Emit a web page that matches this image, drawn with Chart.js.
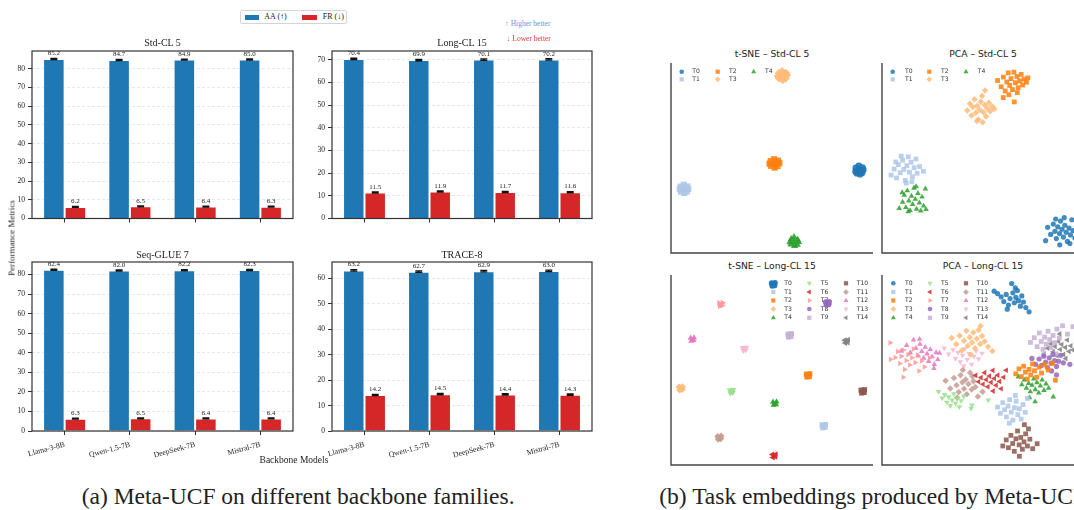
<!DOCTYPE html>
<html><head><meta charset="utf-8">
<script src="https://cdn.jsdelivr.net/npm/chart.js@4.4.1/dist/chart.umd.min.js"></script>
<style>
html,body{margin:0;padding:0;background:#fff;}
body{width:1074px;height:510px;overflow:hidden;position:relative;}
canvas{position:absolute;}
.t{position:absolute;white-space:nowrap;line-height:1;}
</style></head>
<body>
<canvas id="b1" width="299" height="187" style="left:0px;top:39px"></canvas>
<canvas id="b2" width="298" height="187" style="left:300px;top:39px"></canvas>
<canvas id="b3" width="299" height="211" style="left:0px;top:250px"></canvas>
<canvas id="b4" width="298" height="211" style="left:300px;top:250px"></canvas>
<canvas id="s1" width="206" height="192" style="left:669px;top:63px"></canvas>
<canvas id="s2" width="206" height="192" style="left:880px;top:63px"></canvas>
<canvas id="s3" width="206" height="192" style="left:669px;top:275px"></canvas>
<canvas id="s4" width="206" height="192" style="left:880px;top:275px"></canvas>
<div style="position:absolute;left:240px;top:10px;width:107px;height:14px;border:1px solid #d4d4d4;border-radius:2px;box-sizing:border-box;"></div>
<div style="position:absolute;left:244.5px;top:14.5px;width:14px;height:5px;background:#1f77b4;"></div>
<div style="position:absolute;left:301.7px;top:14.5px;width:15px;height:5px;background:#d62728;"></div>
<script>
// ---------- bar chart data ----------
const MODELS = ['Llama-3-8B','Qwen-1.5-7B','DeepSeek-7B','Mistral-7B'];
const BAR_TITLES = ['Std-CL 5','Long-CL 15','Seq-GLUE 7','TRACE-8'];
const SERIES_NAMES = ['AA (↑)','FR (↓)'];
const STD_AA = [85.2, 84.7, 84.9, 85.0];
const STD_FR = [6.2, 6.5, 6.4, 6.3];
const LONG_AA = [70.4, 69.9, 70.1, 70.2];
const LONG_FR = [11.5, 11.9, 11.7, 11.6];
const GLUE_AA = [82.4, 82.0, 82.2, 82.3];
const GLUE_FR = [6.3, 6.5, 6.4, 6.4];
const TRACE_AA = [63.2, 62.7, 62.9, 63.0];
const TRACE_FR = [14.2, 14.5, 14.4, 14.3];
const AA_ERR = [0.3, 0.3, 0.3, 0.3];
const FR_ERR = [0.25, 0.25, 0.25, 0.25];
const Y_MAX = [89.5, 73.9, 86.4, 66.5];
const Y_TICKS = [0, 10, 20, 30, 40, 50, 60, 70, 80];

// ---------- scatter data ----------
const TASK_NAMES = ['T0','T1','T2','T3','T4','T5','T6','T7','T8','T9','T10','T11','T12','T13','T14'];
const SCATTER_TITLES = ['t-SNE – Std-CL 5','PCA – Std-CL 5','t-SNE – Long-CL 15','PCA – Long-CL 15'];
const TSNE_STD5 = [
 [[93.2,43.7],[91.5,44.8],[94.8,44.9],[92.0,42.0],[94.6,42.3],[93.0,45.9],[91.4,42.9],[95.2,43.8],[93.6,41.5]],
 [[6.4,33.7],[4.8,34.9],[8.0,35.0],[5.0,32.3],[7.9,32.4],[6.3,35.9],[4.4,33.6],[8.5,33.8],[6.6,31.6]],
 [[51.1,47.2],[49.4,48.3],[52.9,48.6],[49.6,45.9],[52.7,45.8],[51.0,49.3],[48.8,47.0],[53.6,47.3],[51.3,45.0]],
 [[55.1,93.3],[53.4,94.6],[56.9,94.7],[53.5,92.0],[56.7,91.8],[55.0,95.6],[52.9,93.0],[57.4,93.6],[55.3,91.0]],
 [[61.0,5.9],[59.5,7.2],[62.6,7.0],[59.4,4.6],[62.5,4.4],[60.9,8.3],[58.9,5.7],[63.1,5.9],[61.2,3.8]]
];
const PCA_STD5 = [
 [[82.0,13.5],[83.5,9.8],[84.8,15.2],[85.6,11.4],[86.3,7.6],[87.0,13.8],[87.9,10.2],[88.4,16.8],[89.1,12.5],[89.8,8.4],[90.5,14.6],[91.2,10.9],[91.8,6.1],[92.6,13.1],[93.3,9.5],[94.0,17.5],[94.6,11.8],[95.5,7.9],[96.2,14.0],[81.0,6.5],[88.0,4.3],[90.2,18.6],[86.0,17.9],[93.0,5.0]],
 [[4.5,41.0],[6.0,44.2],[7.2,39.5],[8.1,46.5],[9.0,42.3],[10.2,48.8],[10.8,44.0],[11.5,38.2],[12.3,46.0],[13.0,50.6],[13.6,42.5],[14.4,47.8],[15.1,40.1],[15.9,44.9],[16.8,49.5],[17.4,42.0],[18.6,45.5],[20.5,43.0],[12.0,36.8],[9.5,51.0],[14.8,37.5],[6.8,47.9]],
 [[57.2,90.8],[59.0,87.5],[60.1,92.6],[61.0,85.3],[61.8,90.0],[62.5,94.8],[63.2,88.2],[63.9,91.8],[64.6,86.0],[65.3,95.2],[66.0,89.6],[66.8,92.9],[67.4,87.0],[68.1,90.6],[68.9,94.0],[69.6,88.4],[70.3,91.5],[71.5,89.9],[72.2,92.2],[60.0,81.8],[65.5,79.5],[62.8,83.3],[67.0,84.4]],
 [[42.2,75.0],[43.5,78.6],[44.3,72.4],[45.0,76.8],[45.8,80.9],[46.4,73.8],[47.1,77.5],[47.7,70.2],[48.3,75.4],[48.9,79.6],[49.5,82.6],[50.2,74.1],[50.8,77.9],[51.5,71.8],[52.1,76.0],[52.9,79.1],[53.6,74.6],[54.5,77.2],[55.6,75.8],[47.0,69.5],[51.0,85.5],[49.8,68.8]],
 [[8.5,23.5],[10.2,26.8],[11.0,30.5],[11.8,24.0],[12.5,32.8],[13.3,27.5],[13.9,22.4],[14.6,30.0],[15.2,25.6],[15.8,34.2],[16.5,28.3],[17.1,23.1],[17.8,31.4],[18.5,26.4],[19.2,22.2],[19.8,29.5],[20.6,24.8],[21.5,33.8],[21.8,22.9],[13.0,21.8],[16.9,35.0],[10.0,31.8]]
];
const TSNE_LONG15 = [
 [[49.8,95.7],[51.5,95.9],[50.1,94.2],[51.3,94.5]],
 [[74.8,21.1],[76.5,21.3],[75.1,19.6],[76.3,19.9]],
 [[67.0,47.8],[68.7,48.0],[67.3,46.3],[68.5,46.6]],
 [[4.0,41.0],[5.7,41.2],[4.3,39.5],[5.5,39.8]],
 [[50.5,33.1],[52.2,33.3],[50.8,31.6],[52.0,31.9]],
 [[29.1,39.4],[30.8,39.6],[29.4,37.9],[30.6,38.2]],
 [[50.2,5.5],[51.9,5.7],[50.5,4.0],[51.7,4.3]],
 [[23.8,85.2],[25.5,85.4],[24.1,83.7],[25.3,84.0]],
 [[76.6,85.7],[78.3,85.9],[76.9,84.2],[78.1,84.5]],
 [[57.9,68.9],[59.6,69.1],[58.2,67.4],[59.4,67.7]],
 [[94.1,39.4],[95.8,39.6],[94.4,37.9],[95.6,38.2]],
 [[23.1,15.0],[24.8,15.2],[23.4,13.5],[24.6,13.8]],
 [[9.7,66.8],[11.4,67.0],[10.0,65.3],[11.2,65.6]],
 [[35.5,61.7],[37.2,61.9],[35.8,60.2],[37.0,60.5]],
 [[86.0,65.7],[87.7,65.9],[86.3,64.2],[87.5,64.5]]
];
const PCA_LONG15 = [
 [[55.5,91.5],[57.2,90.2],[59.0,88.5],[60.3,86.0],[61.5,89.8],[62.6,84.2],[63.4,87.6],[64.2,95.5],[64.8,90.6],[65.5,85.4],[66.3,88.2],[67.0,91.8],[67.6,86.5],[68.5,83.6],[69.2,89.0],[70.0,85.8],[71.2,82.9],[72.8,80.6],[66.0,93.2],[62.0,82.0]],
 [[57.2,30.5],[58.6,27.2],[59.8,32.8],[60.7,29.1],[61.6,25.3],[62.4,31.0],[63.2,34.4],[64.0,27.8],[64.8,23.6],[65.6,30.2],[66.4,33.6],[67.2,26.5],[68.0,29.6],[68.9,24.2],[69.8,31.8],[70.9,27.7],[72.0,35.0],[63.0,22.0],[66.0,36.6]],
 [[66.2,48.0],[67.8,50.6],[69.0,46.5],[70.1,52.0],[71.0,48.9],[71.9,45.2],[72.8,50.3],[73.6,47.4],[74.5,53.2],[75.5,49.6],[76.6,46.2],[77.8,51.5],[79.0,48.4],[80.5,52.8],[82.3,50.0],[85.8,44.6],[84.4,53.4]],
 [[34.5,66.8],[36.8,63.5],[38.4,68.0],[39.5,60.2],[40.6,65.4],[41.8,70.6],[42.5,62.8],[43.4,67.3],[44.6,64.5],[45.2,69.8],[46.0,61.4],[46.9,66.5],[47.8,71.0],[48.6,63.7],[49.5,67.9],[50.8,65.0],[52.5,62.3],[54.6,60.0],[48.8,73.2],[44.0,58.0]],
 [[67.5,46.4],[69.2,42.3],[70.4,44.8],[71.5,40.5],[72.6,43.0],[73.4,38.6],[74.3,42.0],[75.1,45.3],[75.9,39.7],[76.7,43.4],[77.6,37.9],[78.4,41.6],[79.3,44.8],[80.2,39.3],[81.2,42.7],[82.5,40.4],[84.8,35.9],[75.8,33.3],[73.0,35.5]],
 [[28.0,38.6],[29.8,35.2],[31.0,37.0],[32.1,33.0],[33.0,35.8],[33.8,31.2],[34.7,34.2],[35.5,37.5],[36.4,32.4],[37.2,35.0],[38.3,30.6],[39.2,33.8],[40.5,36.2],[44.1,29.8],[44.5,31.5],[52.6,34.2]],
 [[46.4,47.2],[47.8,43.8],[49.0,46.0],[50.0,42.5],[50.8,48.6],[51.6,44.9],[52.4,41.2],[53.2,46.8],[54.0,43.5],[54.9,49.8],[55.6,45.5],[56.5,42.0],[57.3,47.3],[58.2,44.0],[59.0,40.1],[60.2,46.2],[61.5,49.9],[55.0,38.9]],
 [[4.0,64.3],[4.2,55.6],[6.5,56.6],[7.8,59.8],[8.8,53.4],[9.5,57.2],[10.6,60.5],[11.2,50.3],[12.0,55.0],[12.9,58.1],[13.7,52.6],[14.8,56.4],[15.5,61.0],[16.4,53.9],[17.5,57.8],[18.3,49.5],[19.6,54.8],[10.5,46.2],[21.0,51.6],[23.5,56.3]],
 [[74.2,56.1],[76.0,53.0],[77.8,55.8],[79.0,52.4],[80.1,57.3],[81.0,54.2],[81.9,51.3],[82.8,56.4],[83.7,53.6],[84.6,58.2],[85.5,55.0],[86.4,51.9],[87.4,54.6],[88.5,57.7],[89.8,53.8],[93.0,53.0],[86.4,47.4],[84.0,49.5]],
 [[73.5,64.5],[75.4,67.0],[76.8,62.3],[77.9,69.5],[78.8,65.0],[79.7,60.8],[80.5,67.3],[81.3,63.5],[82.2,70.4],[83.0,66.0],[83.8,61.8],[84.7,68.2],[85.6,64.4],[86.6,71.5],[87.8,66.8],[89.4,73.3],[91.8,68.9],[94.5,72.8],[80.0,58.0],[86.0,58.5]],
 [[59.8,10.0],[61.5,13.2],[62.6,9.1],[63.8,15.6],[64.7,11.3],[65.5,7.2],[66.3,13.8],[67.1,17.9],[67.9,10.6],[68.7,14.5],[69.5,8.3],[70.3,12.2],[71.1,16.4],[72.0,10.0],[73.2,13.6],[74.6,8.6],[76.8,11.2],[70.5,21.2],[68.0,4.6],[72.5,19.0]],
 [[31.5,44.3],[33.8,40.2],[35.6,45.8],[36.9,42.0],[38.0,38.4],[38.9,47.2],[39.8,43.5],[40.6,40.1],[41.4,45.0],[42.0,37.2],[42.8,42.6],[43.6,48.5],[44.4,39.8],[45.3,44.1],[46.2,41.0],[47.5,36.0],[49.8,38.5],[40.0,50.0],[37.2,35.5],[44.8,46.6]],
 [[9.5,60.0],[12.2,63.0],[14.0,59.2],[15.6,65.8],[16.8,61.5],[17.9,57.4],[18.8,63.6],[19.7,59.8],[20.6,56.2],[21.4,62.0],[22.3,58.5],[23.1,54.6],[23.9,60.8],[24.8,57.0],[25.9,53.0],[26.8,59.2],[27.6,55.5],[28.5,58.9],[18.6,66.2],[25.7,50.9]],
 [[30.8,61.5],[33.0,58.4],[35.2,60.6],[36.4,56.0],[37.6,59.2],[38.8,54.3],[39.9,57.7],[41.0,61.3],[42.2,55.5],[43.1,58.6],[44.3,53.0],[45.5,57.2],[46.6,60.0],[47.8,55.8],[49.5,58.8],[40.5,52.2]],
 [[80.3,58.4],[82.0,61.5],[83.6,63.8],[84.8,59.6],[85.7,62.4],[86.6,57.5],[87.4,65.0],[88.2,60.8],[89.0,63.4],[89.9,58.2],[90.8,61.9],[91.7,65.8],[92.6,59.8],[93.5,62.7],[94.6,60.5],[88.0,69.0],[91.0,56.0]]
];

// ---------- styles ----------
const TASK_COLORS = ['#1f77b4','#aec7e8','#ff7f0e','#ffbb78','#2ca02c','#98df8a','#d62728','#ff9896','#9467bd','#c5b0d5','#8c564b','#c49c94','#e377c2','#f7b6d2','#7f7f7f'];
const TASK_STYLES = ['circle','rect','rect','rectRot','triangle','triangle','triangle','triangle','circle','rect','rect','rectRot','triangle','triangle','triangle'];
const TASK_ROT = [0,0,0,0,0,180,-90,90,0,0,0,0,0,180,-90];
const SERIF = '"Liberation Serif","Times New Roman",serif';
const SANS = '"DejaVu Sans",sans-serif';

function rgba(hex, a){const n=parseInt(hex.slice(1),16);return `rgba(${n>>16},${(n>>8)&255},${n&255},${a})`;}
function sizeFor(style, r){ if(style==='rect') return r*1.3; if(style==='rectRot') return r*1.25; if(style==='triangle') return r*1.25; return r; }

function addText(str, x, y, o){
  const d=document.createElement('div'); d.className='t'; d.textContent=str;
  d.style.left=x+'px'; d.style.top=y+'px';
  d.style.fontFamily=o.family||SERIF; d.style.fontSize=o.size+'px'; d.style.color=o.color||'#222';
  let tr = o.center ? 'translate(-50%,-50%)' : 'translate(0,-50%)';
  if(o.rotate) tr += ' rotate('+o.rotate+'deg)';
  d.style.transform=tr; document.body.appendChild(d);
}

// ---------- bar charts ----------
const errPlugin = {id:'errbars', afterDatasetsDraw(chart){
  const ctx=chart.ctx, ys=chart.scales.y, a=chart.chartArea;
  ctx.save();
  ctx.strokeStyle='#333'; ctx.lineWidth=1.2;
  ctx.strokeRect(a.left, a.top, a.right-a.left, a.bottom-a.top);
  chart.data.datasets.forEach((ds,di)=>{
    chart.getDatasetMeta(di).data.forEach((bar,i)=>{
      const v=ds.data[i], e=ds.err[i];
      const yt=ys.getPixelForValue(v+e), yb=ys.getPixelForValue(v-e);
      ctx.strokeStyle='#111'; ctx.lineWidth=1.3;
      ctx.beginPath();
      ctx.moveTo(bar.x,yt); ctx.lineTo(bar.x,yb);
      ctx.moveTo(bar.x-3.5,yt); ctx.lineTo(bar.x+3.5,yt);
      ctx.moveTo(bar.x-3.5,yb); ctx.lineTo(bar.x+3.5,yb);
      ctx.stroke();
      ctx.fillStyle='#222'; ctx.font='7px '+SERIF; ctx.textAlign='center'; ctx.textBaseline='bottom';
      ctx.fillText(v.toFixed(1), bar.x, yt-1.5);
    });
  });
  ctx.restore();
}};

function barChart(id, aa, fr, ymax, showX){
  new Chart(document.getElementById(id), {
    type:'bar',
    data:{labels:MODELS, datasets:[
      {label:SERIES_NAMES[0], data:aa, err:AA_ERR, backgroundColor:'#1f77b4', borderColor:'rgba(255,255,255,0.55)', borderWidth:1, borderSkipped:'bottom', categoryPercentage:0.66, barPercentage:1},
      {label:SERIES_NAMES[1], data:fr, err:FR_ERR, backgroundColor:'#d62728', borderColor:'rgba(255,255,255,0.55)', borderWidth:1, borderSkipped:'bottom', categoryPercentage:0.66, barPercentage:1}
    ]},
    options:{
      responsive:false, animation:false, devicePixelRatio:1,
      layout:{padding:{top:12,right:6,left:0,bottom:0}, autoPadding:false},
      plugins:{legend:{display:false}, tooltip:{enabled:false}},
      scales:{
        x:{ grid:{display:true, drawOnChartArea:false, offset:false, tickLength:4, tickColor:'#333', tickWidth:1},
            border:{display:false},
            ticks:{display:showX, font:{family:SERIF, size:7.7}, color:'#222', minRotation:15, maxRotation:15, padding:5, autoSkip:false},
            afterFit:s=>{s.height = showX?30:6;} },
        y:{ min:0, max:ymax,
            afterBuildTicks:s=>{s.ticks = Y_TICKS.filter(v=>v<=ymax).map(v=>({value:v}));},
            grid:{color:'rgba(0,0,0,0.12)', lineWidth:0.8, tickColor:'#333', tickLength:4, tickWidth:1},
            border:{display:false, dash:[3,2]},
            ticks:{font:{family:SERIF, size:7.5}, color:'#222', padding:3},
            afterFit:s=>{s.width=32;} }
      }
    },
    plugins:[errPlugin]
  });
}
barChart('b1', STD_AA, STD_FR, Y_MAX[0], false);
barChart('b2', LONG_AA, LONG_FR, Y_MAX[1], false);
barChart('b3', GLUE_AA, GLUE_FR, Y_MAX[2], true);
barChart('b4', TRACE_AA, TRACE_FR, Y_MAX[3], true);

// ---------- scatter charts ----------
const spinePlugin = {id:'spines',
  beforeDatasetsDraw(chart, args, opts){
    const ctx=chart.ctx, a=chart.chartArea, L=opts.legend;
    ctx.save();
    ctx.font='6.1px '+SANS; ctx.textBaseline='middle'; ctx.textAlign='left';
    chart.data.datasets.forEach((ds,i)=>{
      const col=Math.floor(i/L.nrows), row=i%L.nrows;
      const mx=a.left+L.mx[col], y=a.top+L.ry[row];
      ctx.fillStyle=rgba(TASK_COLORS[i],0.85); ctx.strokeStyle='transparent';
      Chart.helpers.drawPoint(ctx,{pointStyle:TASK_STYLES[i], rotation:TASK_ROT[i], radius:sizeFor(TASK_STYLES[i],2.3), borderWidth:0}, mx, y);
      ctx.fillStyle='#333';
      ctx.fillText(TASK_NAMES[i], a.left+L.tx[col], y);
    });
    ctx.restore();
  },
  afterDraw(chart){
    const ctx=chart.ctx, a=chart.chartArea;
    ctx.save(); ctx.strokeStyle='#444'; ctx.lineWidth=1.4;
    ctx.beginPath(); ctx.moveTo(a.left, a.top); ctx.lineTo(a.left, a.bottom); ctx.lineTo(a.right, a.bottom); ctx.stroke();
    ctx.restore();
  }
};

function scatterChart(id, clusters, baseR, alpha, legend){
  new Chart(document.getElementById(id), {
    type:'scatter',
    data:{datasets: clusters.map((pts,i)=>({
      label:TASK_NAMES[i], data:pts.map(p=>({x:p[0], y:p[1]})),
      pointStyle:TASK_STYLES[i], pointRotation:TASK_ROT[i], pointRadius:sizeFor(TASK_STYLES[i],baseR),
      pointBackgroundColor:rgba(TASK_COLORS[i],alpha), pointBorderWidth:0, pointBorderColor:'transparent', clip:false
    }))},
    options:{
      responsive:false, animation:false, devicePixelRatio:1,
      layout:{padding:{left:2,right:2,top:0,bottom:2}, autoPadding:false},
      plugins:{legend:{display:false}, tooltip:{enabled:false}, spines:{legend:legend}},
      scales:{ x:{type:'linear', min:0, max:100, display:false}, y:{type:'linear', min:0, max:100, display:false} }
    },
    plugins:[spinePlugin]
  });
}
scatterChart('s1', TSNE_STD5, 3.4, 0.9, {nrows:2, mx:[10.7,46.7,82.7], tx:[21.3,58,94], ry:[8.7,16.3]});
scatterChart('s2', PCA_STD5, 2.6, 0.85, {nrows:2, mx:[10.7,47.3,84], tx:[23,59,95.7], ry:[8.7,16.3]});
scatterChart('s3', TSNE_LONG15, 2.8, 0.95, {nrows:5, mx:[102.3,138.3,175], tx:[113.3,149.7,185.7], ry:[8.3,17,25.5,34,42.8]});
scatterChart('s4', PCA_LONG15, 2.6, 0.85, {nrows:5, mx:[11.3,48,84], tx:[23,59,94.7], ry:[8.3,17,25.5,34,42.8]});

// ---------- text ----------
addText(SERIES_NAMES[0], 264.3, 17, {size:8});
addText(SERIES_NAMES[1], 322.7, 17, {size:8});
addText('↑ Higher better', 505, 24, {size:7.5, color:'#5b9bd5'});
addText('↓ Lower better', 506.7, 38.7, {size:7.5, color:'#e0393a'});
addText(BAR_TITLES[0], 162.5, 42.7, {size:10, center:true});
addText(BAR_TITLES[1], 462, 42.7, {size:10, center:true});
addText(BAR_TITLES[2], 162.5, 255, {size:10, center:true});
addText(BAR_TITLES[3], 462, 255, {size:10, center:true});
addText('Performance Metrics', 11.7, 237.5, {size:9, center:true, rotate:-90});
addText('Backbone Models', 294, 461, {size:9.5, center:true});
addText(SCATTER_TITLES[0], 772, 54, {size:9.2, family:SANS, center:true});
addText(SCATTER_TITLES[1], 983, 54, {size:9.2, family:SANS, center:true});
addText(SCATTER_TITLES[2], 772, 265.7, {size:9.2, family:SANS, center:true});
addText(SCATTER_TITLES[3], 983, 265.7, {size:9.2, family:SANS, center:true});
addText('(a) Meta-UCF on different backbone families.', 81.7, 497, {size:23.5});
addText('(b) Task embeddings produced by Meta-UCF.', 659.3, 497, {size:23.5});
</script>
</body></html>
